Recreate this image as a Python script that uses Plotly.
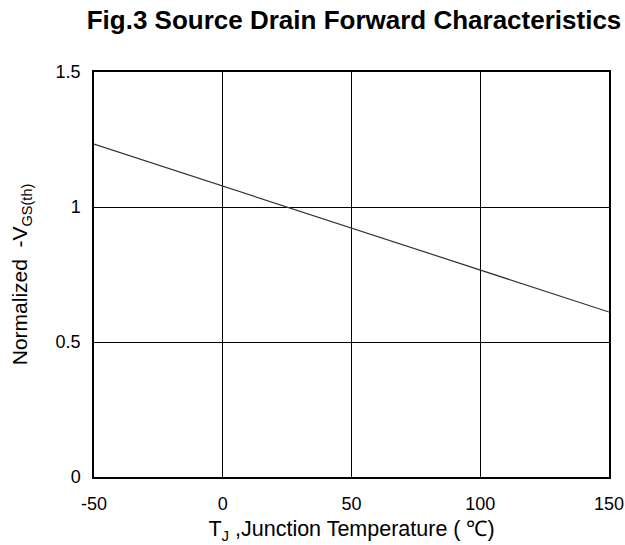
import plotly.graph_objects as go

temps = [-50, 150]
norm_vgs = [1.233, 0.611]

x_ticks = [-50, 0, 50, 100, 150]
x_tick_labels = ["-50", "0", "50", "100", "150"]
y_ticks = [0, 0.5, 1, 1.5]
y_tick_labels = ["0", "0.5", "1", "1.5"]

font_family = "Liberation Sans, Arial, sans-serif"

fig = go.Figure()
fig.add_trace(go.Scatter(x=temps, y=norm_vgs, mode="lines",
                         line=dict(color="#333333", width=1.2),
                         showlegend=False, hoverinfo="skip"))

fig.update_layout(
    width=625, height=545,
    margin=dict(l=94, r=16, t=72, b=68, autoexpand=False),
    paper_bgcolor="white", plot_bgcolor="white",
    font=dict(family=font_family, color="black"),
    title=dict(text="<b>Fig.3 Source Drain Forward Characteristics</b>",
               x=354 / 625, xanchor="center",
               y=1 - 20 / 545, yanchor="middle",
               font=dict(size=26, family=font_family, color="black")),
)
fig.update_xaxes(range=[-50, 150], tickvals=x_ticks, ticktext=x_tick_labels, ticks="",
                 showgrid=True, gridcolor="black", gridwidth=1,
                 showline=True, linecolor="black", linewidth=1.5, mirror=True,
                 zeroline=False, ticklabelstandoff=10, automargin=False,
                 ticklabeloverflow="allow",
                 tickfont=dict(size=18, color="black"),
                 title=dict(text="T<sub>J</sub> ,Junction Temperature ( ℃)",
                            font=dict(size=21.5, color="black"), standoff=8))
fig.update_yaxes(range=[0, 1.5], tickvals=y_ticks, ticktext=y_tick_labels, ticks="",
                 showgrid=True, gridcolor="black", gridwidth=1,
                 showline=True, linecolor="black", linewidth=1.5, mirror=True,
                 zeroline=False, ticklabelstandoff=8, automargin=False,
                 ticklabeloverflow="allow",
                 tickfont=dict(size=18, color="black"),
                 title=dict(text="Normalized  -V<sub><span style='font-size:14.5px'>GS(th)</span></sub>",
                            font=dict(size=21, color="black"), standoff=22))

fig.write_html("out.html", config={"displayModeBar": False},
               post_script=("document.body.style.margin='0';"
                            "document.body.style.overflow='hidden';"
                            "var gd=document.getElementById('{plot_id}');"
                            "Plotly.relayout(gd,{width:625,height:545});"))
